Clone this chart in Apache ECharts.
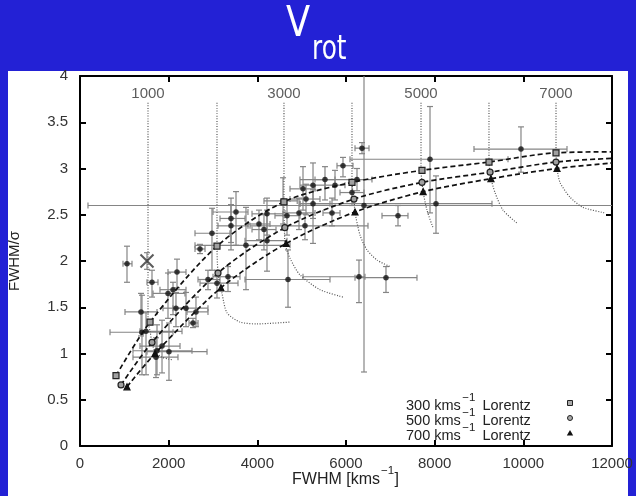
<!DOCTYPE html>
<html><head><meta charset="utf-8">
<script src="https://cdn.jsdelivr.net/npm/echarts@6/dist/echarts.min.js"></script>
<style>
html,body{margin:0;padding:0;background:#2321d5;}
#wrap{position:relative;width:636px;height:496px;overflow:hidden;background:#2321d5;}
#panel{position:absolute;left:8px;top:71px;width:620px;height:425px;background:#fff;}
#chart{position:absolute;left:0;top:0;width:636px;height:496px;}
</style></head><body>
<div id="wrap"><div id="panel"></div><div id="chart"></div></div>
<script>
// ---------------- data ----------------
// model tracks (observed FWHM, FWHM/sigma) for three Lorentz widths; nodes at intrinsic FWHM 1000..7000
const model300 = [[812,0.76],[1580,1.34],[3090,2.16],[4600,2.64],[6135,2.85],[7714,2.98],[9226,3.07],[10737,3.17],[12000,3.18]];
const model500 = [[925,0.66],[1624,1.12],[3113,1.87],[4620,2.36],[6180,2.67],[7714,2.85],[9250,2.96],[10737,3.07],[12000,3.11]];
const model700 = [[1060,0.64],[1692,1.00],[3180,1.71],[4650,2.19],[6203,2.53],[7740,2.75],[9270,2.89],[10760,3.00],[12000,3.06]];
const modelWidths = ['300', '500', '700'];

// dotted constant-intrinsic-FWHM curves
const intrinsic1000 = [[1534,3.71],[1534,1.35],[1580,1.24],[1624,1.12],[1692,1.02],[1850,0.96],[2000,0.94],[2098,0.93]];
const intrinsic2000 = [[3090,3.71],[3090,2.16],[3113,1.87],[3180,1.71],[3203,1.65],[3316,1.44],[3609,1.34],[3992,1.32],[4737,1.34]];
const intrinsic3000 = [[4601,3.71],[4601,2.64],[4612,2.36],[4624,2.19],[4737,2.03],[4962,1.85],[5413,1.69],[5932,1.61]];
const intrinsic4000 = [[6135,3.71],[6135,2.85],[6180,2.67],[6203,2.53],[6316,2.28],[6474,2.12],[6699,2.01],[6992,1.94]];
const intrinsic5000 = [[7692,3.71],[7692,2.98],[7714,2.85],[7737,2.75],[7827,2.55],[7962,2.36]];
const intrinsic6000 = [[9225,3.71],[9225,3.07],[9250,2.96],[9270,2.89],[9361,2.74],[9541,2.55],[9857,2.41]];
const intrinsic7000 = [[10737,3.71],[10737,3.17],[10748,3.07],[10759,3.00],[10827,2.85],[11052,2.69],[11346,2.58],[11842,2.52]];
const intrinsicCurves = [intrinsic1000, intrinsic2000, intrinsic3000, intrinsic4000, intrinsic5000, intrinsic6000, intrinsic7000];

const topLabels = ['1000', '3000', '5000', '7000'];
const topLabelX = [1534, 4601, 7692, 10737];
const topLabelY = 3.81;

// observed objects: [FWHM, FWHM/sigma, FWHM low, FWHM high, ratio low, ratio high]
const observed = [
 [1060,1.97, 970,1173, 1.77,2.16],
 [1624,1.77, 1511,1759, 1.61,1.90],
 [1985,1.65, 1647,2368, 1.38,1.87],
 [2188,1.88, 1985,2391, 1.71,2.02],
 [2098,1.69, 1804,2391, 1.42,1.77],
 [2707,2.13, 2594,2820, 2.08,2.18],
 [1376,1.45, 1015,1737, 1.19,1.65],
 [2165,1.49, 1872,2413, 1.29,1.66],
 [2391,1.49, 2098,2887, 1.29,1.66],
 [2616,1.45, 2413,2887, 1.29,1.61],
 [2549,1.33, 2459,2662, 1.28,1.38],
 [1398,1.23, 677,2098, 0.77,1.63],
 [1489,1.24, 1353,2301, 0.77,1.44],
 [1737,1.03, 1195,2526, 0.77,1.31],
 [1850,1.08, 1353,2256, 0.79,1.36],
 [1714,0.96, 1195,2210, 0.74,1.17],
 [2007,1.02, 1511,2865, 0.71,1.33],
 [2887,1.80, 2662,3158, 1.69,1.90],
 [3090,1.76, 2707,3564, 1.60,1.90],
 [3338,1.83, 3000,3609, 1.67,1.94],
 [4692,1.80, 3722,5639, 1.50,2.12],
 [2977,2.30, 2594,3383, 1.90,2.57],
 [3406,2.46, 3158,3722, 2.20,2.68],
 [3406,2.38, 3113,3789, 2.12,2.61],
 [3519,2.53, 3000,3789, 2.17,2.75],
 [3744,2.17, 2594,4737, 1.69,2.58],
 [4037,2.40, 3789,4286, 2.23,2.55],
 [4150,2.34, 3880,4421, 2.12,2.50],
 [4218,2.51, 3880,4579, 2.28,2.68],
 [4218,2.22, 3722,4669, 1.89,2.55],
 [4580,2.65, 4150,4900, 2.40,2.90],
 [5030,2.78, 4737,5301, 2.55,3.02],
 [5256,2.82, 4962,5526, 2.19,3.06],
 [5256,2.62, 4962,5639, 2.46,2.77],
 [5526,2.88, 5301,5752, 2.66,3.02],
 [5752,2.82, 5526,5977, 2.66,2.98],
 [5098,2.67, 4737,5413, 2.50,2.83],
 [4669,2.49, 4398,4962, 2.28,2.66],
 [4940,2.52, 4624,5301, 2.34,2.68],
 [5075,2.38, 3835,6496, 2.23,2.51],
 [5684,2.52, 5481,5865, 2.38,2.68],
 [6361,3.22, 6203,6519, 3.16,3.28],
 [5932,3.03, 5797,6158, 2.91,3.12],
 [6248,2.88, 4962,6586, 2.76,3.00],
 [6135,2.74, 5865,6406, 2.60,2.88],
 [6406,2.60, 180,12500, 0.80,4.30],
 [7173,2.49, 6812,7398, 2.38,2.60],
 [7895,3.10, 6090,9654, 2.52,3.67],
 [8030,2.62, 4962,9293, 2.30,2.92],
 [9947,3.21, 8887,10985, 2.96,3.45],
 [6293,1.83, 5030,6428, 1.55,2.01],
 [6902,1.82, 6203,7601, 1.66,1.94]
];
// special object marked with a cross
const crossPoint = [[1511, 2.00, 1511, 1511, 1.91, 2.09]];

// ---------------- chart ----------------
const FONT = '"Liberation Sans", Arial, Helvetica, sans-serif';
const chart = echarts.init(document.getElementById('chart'));
const capHalf = 3;

function errRender(params, api) {
  const x = api.value(0), y = api.value(1);
  const L = api.coord([api.value(2), y]), R = api.coord([api.value(3), y]);
  const B = api.coord([x, api.value(4)]), T = api.coord([x, api.value(5)]);
  const st = {stroke: '#858585', lineWidth: 1.2};
  const seg = (a, b, c, d) => ({type: 'line', shape: {x1: a, y1: b, x2: c, y2: d}, style: st});
  const ch = [];
  if (Math.abs(R[0] - L[0]) > 1) {
    ch.push(seg(L[0], L[1], R[0], R[1]));
    ch.push(seg(L[0], L[1] - capHalf, L[0], L[1] + capHalf));
    ch.push(seg(R[0], R[1] - capHalf, R[0], R[1] + capHalf));
  }
  ch.push(seg(B[0], B[1], T[0], T[1]));
  ch.push(seg(B[0] - capHalf, B[1], B[0] + capHalf, B[1]));
  ch.push(seg(T[0] - capHalf, T[1], T[0] + capHalf, T[1]));
  return {type: 'group', children: ch};
}

const axisLineStyle = {color: '#000', width: 2};
const series = [];
series.push({type: 'custom', name: 'err', renderItem: errRender, data: observed.concat(crossPoint),
  encode: {x: 0, y: 1}, clip: true, z: 2, silent: true});
series.push({type: 'scatter', data: observed.map(r => [r[0], r[1]]), symbol: 'circle', symbolSize: 5.5,
  itemStyle: {color: '#111'}, z: 5, silent: true});
series.push({type: 'scatter', data: crossPoint.map(r => [r[0], r[1]]),
  symbol: 'path://M0,0L10,10M10,0L0,10', symbolSize: 13,
  itemStyle: {color: 'transparent', borderColor: '#333', borderWidth: 2}, z: 6, silent: true});
intrinsicCurves.forEach(c => series.push({type: 'line', data: c, symbol: 'none', smooth: 0.25,
  lineStyle: {color: '#555', width: 1.2, type: [1, 1.6]}, z: 3, silent: true}));
const markerStyles = [
  {symbol: 'rect', color: '#a0a0a0', border: '#222'},
  {symbol: 'circle', color: '#a0a0a0', border: '#222'},
  {symbol: 'triangle', color: '#111', border: '#111'}
];
[model300, model500, model700].forEach((m, i) => series.push({type: 'line', data: m,
  symbol: markerStyles[i].symbol, showSymbol: true, showAllSymbol: true,
  symbolSize: (v, p) => (p.dataIndex === m.length - 1 ? 0 : 6),
  itemStyle: {color: markerStyles[i].color, borderColor: markerStyles[i].border, borderWidth: 1.2},
  smooth: 0.3, lineStyle: {color: '#111', width: 1.7, type: [5, 3]}, z: 7, silent: true}));
series.push({type: 'scatter', data: topLabels.map((t, i) => [topLabelX[i], topLabelY, t]),
  symbolSize: 1, itemStyle: {color: 'transparent'},
  label: {show: true, position: 'inside', formatter: p => p.value[2], color: '#333', fontSize: 15, fontFamily: FONT},
  z: 8, silent: true});

// ---------------- text graphics ----------------
const ctx = document.createElement('canvas').getContext('2d');
function tw(text, font) { ctx.font = font; return ctx.measureText(text).width; }
function txt(x, yMid, text, font, fill, extra) {
  return Object.assign({type: 'text', x: x, y: yMid, z: 100,
    style: {x: 0, y: 0, text: text, font: font, fill: fill, textAlign: 'left', align: 'left',
            textVerticalAlign: 'middle', verticalAlign: 'middle'}}, extra || {});
}
const graphics = [];
// title
graphics.push(txt(286, 25, 'V', '43px "DejaVu Sans", sans-serif', '#fff', {scaleX: 0.82}));
graphics.push(txt(312, 50, 'rot', '33px "DejaVu Sans", sans-serif', '#fff', {scaleX: 0.75}));
// legend
const mainFont = '14.5px ' + FONT, supFont = '11.5px ' + FONT;
const legBase = [410.7, 425.7, 440.7];
modelWidths.forEach((w, i) => {
  let x = 406;
  const a = w + ' kms';
  graphics.push(txt(x, legBase[i] - 0.31 * 14.5, a, mainFont, '#222'));
  x += tw(a, mainFont) + 1.5;
  graphics.push(txt(x, legBase[i] - 9.5 - 0.31 * 11.5, '\u22121', supFont, '#222'));
  x += tw('\u22121', supFont) + 3;
  graphics.push(txt(x, legBase[i] - 0.31 * 14.5, ' Lorentz', mainFont, '#222'));
});
graphics.push({type: 'rect', z: 100, shape: {x: 567.5, y: 400.5, width: 5, height: 5}, style: {fill: '#aaa', stroke: '#222', lineWidth: 1}});
graphics.push({type: 'circle', z: 100, shape: {cx: 570, cy: 418, r: 2.5}, style: {fill: '#aaa', stroke: '#222', lineWidth: 1}});
graphics.push({type: 'polygon', z: 100, shape: {points: [[570, 430], [573.2, 435.5], [566.8, 435.5]]}, style: {fill: '#111'}});
// x axis name
const xnFont = '16px ' + FONT, xnSup = '11.5px ' + FONT;
let nx = 292;
graphics.push(txt(nx, 485 - 0.31 * 16, 'FWHM [kms', xnFont, '#222'));
nx += tw('FWHM [kms', xnFont) + 1;
graphics.push(txt(nx, 474.5 - 0.31 * 11.5, '\u22121', xnSup, '#222'));
nx += tw('\u22121', xnSup) + 0.5;
graphics.push(txt(nx, 485 - 0.31 * 16, ']', xnFont, '#222'));
// y axis name
graphics.push({type: 'text', x: 15, y: 261, rotation: Math.PI / 2, z: 100,
  style: {x: 0, y: 0, text: 'FWHM/\u03c3', font: '15px ' + FONT, fill: '#222',
          textAlign: 'center', align: 'center', textVerticalAlign: 'middle', verticalAlign: 'middle'}});

const plain = v => String(v);
const option = {
  animation: false,
  backgroundColor: 'transparent',
  grid: {left: 80, right: 24, top: 76, bottom: 50, containLabel: false},
  xAxis: [
    {type: 'value', min: 0, max: 12000, interval: 2000, position: 'bottom',
     axisLine: {show: true, onZero: false, lineStyle: axisLineStyle},
     axisTick: {show: true, inside: true, length: 6, lineStyle: axisLineStyle},
     axisLabel: {margin: 10, color: '#333', fontSize: 15, fontFamily: FONT, formatter: plain},
     splitLine: {show: false}},
    {type: 'value', min: 0, max: 12000, interval: 2000, position: 'top',
     axisLine: {show: true, onZero: false, lineStyle: axisLineStyle},
     axisTick: {show: true, inside: true, length: 6, lineStyle: axisLineStyle},
     axisLabel: {show: false}, splitLine: {show: false}}
  ],
  yAxis: [
    {type: 'value', min: 0, max: 4, interval: 0.5, position: 'left',
     axisLine: {show: true, onZero: false, lineStyle: axisLineStyle},
     axisTick: {show: true, inside: true, length: 6, lineStyle: axisLineStyle},
     axisLabel: {margin: 12, color: '#333', fontSize: 15, fontFamily: FONT, formatter: plain},
     splitLine: {show: false}},
    {type: 'value', min: 0, max: 4, interval: 0.5, position: 'right',
     axisLine: {show: true, onZero: false, lineStyle: axisLineStyle},
     axisTick: {show: true, inside: true, length: 6, lineStyle: axisLineStyle},
     axisLabel: {show: false}, splitLine: {show: false}}
  ],
  graphic: {elements: graphics},
  series: series
};
chart.setOption(option);
</script></body></html>
